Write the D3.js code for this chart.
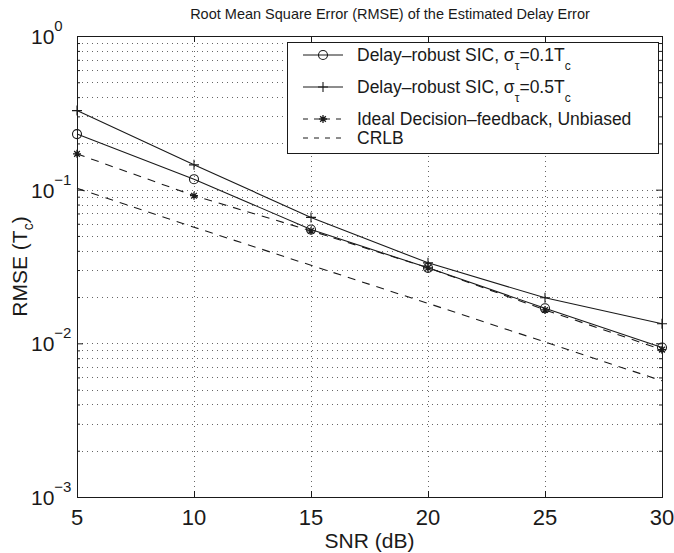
<!DOCTYPE html>
<html>
<head>
<meta charset="utf-8">
<script src="https://cdn.jsdelivr.net/npm/d3@7"></script>
<style>
  html, body { margin: 0; padding: 0; background: #fff; }
  svg { display: block; font-family: "Liberation Sans", Arial, Helvetica, sans-serif; }
</style>
</head>
<body>
<svg id="chart" width="674" height="553"></svg>
<script>
// SNR points (dB)
const snr = [5, 10, 15, 20, 25, 30];
// RMSE of the estimated delay (in chip periods Tc)
const sicSigma01 = [0.23, 0.117, 0.055, 0.031, 0.0169, 0.0094];
const sicSigma05 = [0.327, 0.145, 0.066, 0.0334, 0.0198, 0.0134];
const idealDF = [0.171, 0.0914, 0.054, 0.031, 0.0165, 0.0091];
const crlb = [0.102, 0.057, 0.0322, 0.0182, 0.0102, 0.0057];

const xTicks = [5, 10, 15, 20, 25, 30];
const yExponents = [0, -1, -2, -3];

(function draw() {
  const svg = d3.select("#chart");
  const margin = { left: 77, right: 12, top: 36, bottom: 56 };
  const W = 674, H = 553;
  const x0 = margin.left, x1 = W - margin.right;
  const y0 = margin.top, y1 = H - margin.bottom;

  const x = d3.scaleLinear().domain([5, 30]).range([x0, x1]);
  const y = d3.scaleLog().domain([1e-3, 1]).range([y1, y0]);

  const ink = "#1a1a1a";

  // grid lines: vertical at x ticks, horizontal at every decade subdivision
  const grid = svg.append("g").attr("stroke", "#666").attr("stroke-width", 1)
    .attr("stroke-dasharray", "1 4").attr("fill", "none");
  const yGridVals = [];
  for (let e = -3; e < 0; e++) for (let m = 1; m <= 9; m++) yGridVals.push(m * Math.pow(10, e));
  yGridVals.forEach(v => {
    if (v <= 1e-3) return;
    grid.append("line").attr("x1", x0).attr("x2", x1)
      .attr("y1", Math.round(y(v)) + 0.5).attr("y2", Math.round(y(v)) + 0.5);
  });
  xTicks.forEach(v => {
    if (v === 5 || v === 30) return;
    grid.append("line").attr("y1", y0).attr("y2", y1)
      .attr("x1", Math.round(x(v)) + 0.5).attr("x2", Math.round(x(v)) + 0.5);
  });

  // axes via d3 axis generators, ticks pointing inwards
  const axisG = svg.append("g");
  axisG.append("g").attr("transform", `translate(0,${y1})`)
    .call(d3.axisBottom(x).tickValues(xTicks).tickSize(-6).tickFormat(""));
  axisG.append("g").attr("transform", `translate(0,${y0})`)
    .call(d3.axisTop(x).tickValues(xTicks).tickSize(-6).tickFormat(""));
  const majorY = yExponents.map(e => Math.pow(10, e));
  const minorY = yGridVals.filter(v => v > 1e-3 && !majorY.some(m => Math.abs(v - m) < 1e-12));
  axisG.append("g").attr("transform", `translate(${x0},0)`)
    .call(d3.axisLeft(y).tickValues(majorY).tickSize(-6).tickFormat(""));
  axisG.append("g").attr("transform", `translate(${x0},0)`)
    .call(d3.axisLeft(y).tickValues(minorY).tickSize(-3).tickFormat(""));
  axisG.append("g").attr("transform", `translate(${x1},0)`)
    .call(d3.axisRight(y).tickValues(majorY).tickSize(-6).tickFormat(""));
  axisG.append("g").attr("transform", `translate(${x1},0)`)
    .call(d3.axisRight(y).tickValues(minorY).tickSize(-3).tickFormat(""));
  axisG.selectAll("path.domain").attr("stroke", ink).attr("stroke-width", 1);
  axisG.selectAll(".tick line").attr("stroke", ink);

  // tick labels
  xTicks.forEach(v => {
    svg.append("text").attr("x", x(v)).attr("y", y1 + 28)
      .attr("text-anchor", "middle").attr("font-size", 22).attr("fill", ink).text(v);
  });
  yExponents.forEach(e => {
    const t = svg.append("text").attr("x", 31).attr("y", y(Math.pow(10, e)) + 8)
      .attr("font-size", 21).attr("fill", ink);
    t.append("tspan").text("10");
    t.append("tspan").attr("dy", -13).attr("font-size", 15).text(e === 0 ? "0" : "\u2212" + Math.abs(e));
  });

  // axis titles
  svg.append("text").attr("x", (x0 + x1) / 2).attr("y", y1 + 51)
    .attr("text-anchor", "middle").attr("font-size", 21).attr("fill", ink).text("SNR (dB)");
  const yl = svg.append("text").attr("transform", `translate(27,${(y0 + y1) / 2}) rotate(-90)`)
    .attr("text-anchor", "middle").attr("font-size", 21).attr("fill", ink);
  yl.append("tspan").text("RMSE (T");
  yl.append("tspan").attr("dy", 6).attr("font-size", 14).text("c");
  yl.append("tspan").attr("dy", -6).text(")");

  svg.append("text").attr("x", 390).attr("y", 19).attr("text-anchor", "middle")
    .attr("font-size", 14.5).attr("fill", ink)
    .text("Root Mean Square Error (RMSE) of the Estimated Delay Error");

  // series
  const lineGen = d3.line().x(d => x(d[0])).y(d => y(d[1]));
  const plot = svg.append("g");
  const series = [
    { vals: sicSigma01, dash: null, marker: "circle" },
    { vals: sicSigma05, dash: null, marker: "plus" },
    { vals: idealDF, dash: "8 7", marker: "star" },
    { vals: crlb, dash: "8 7", marker: null }
  ];

  function drawMarker(g, type, cx, cy) {
    if (type === "circle") {
      g.append("circle").attr("cx", cx).attr("cy", cy).attr("r", 4.5)
        .attr("fill", "none").attr("stroke", ink).attr("stroke-width", 1.1);
    } else if (type === "plus") {
      g.append("path").attr("d", `M${cx - 5},${cy}H${cx + 5}M${cx},${cy - 5}V${cy + 5}`)
        .attr("stroke", ink).attr("stroke-width", 1.1);
    } else if (type === "star") {
      const r = 4;
      const d = [];
      for (let k = 0; k < 4; k++) {
        const a = k * Math.PI / 4;
        d.push(`M${cx - r * Math.cos(a)},${cy - r * Math.sin(a)}L${cx + r * Math.cos(a)},${cy + r * Math.sin(a)}`);
      }
      g.append("path").attr("d", d.join("")).attr("stroke", ink).attr("stroke-width", 1.3);
    }
  }

  series.forEach(s => {
    const pts = snr.map((v, i) => [v, s.vals[i]]);
    plot.append("path").datum(pts).attr("d", lineGen).attr("fill", "none")
      .attr("stroke", ink).attr("stroke-width", 1.1)
      .attr("stroke-dasharray", s.dash);
    if (s.marker) pts.forEach(p => drawMarker(plot, s.marker, x(p[0]), y(p[1])));
  });

  // legend
  const lg = svg.append("g");
  lg.append("rect").attr("x", 287.5).attr("y", 42.5).attr("width", 371).attr("height", 111)
    .attr("fill", "#fff").attr("stroke", ink).attr("stroke-width", 1);
  const rows = [
    { y: 55, marker: "circle", dash: null, sub: "0.1" },
    { y: 87, marker: "plus", dash: null, sub: "0.5" },
    { y: 119, marker: "star", dash: "5 6", label: "Ideal Decision\u2013feedback, Unbiased" },
    { y: 138, marker: null, dash: "5 6", label: "CRLB" }
  ];
  rows.forEach(r => {
    lg.append("line").attr("x1", 303).attr("x2", 343).attr("y1", r.y).attr("y2", r.y)
      .attr("stroke", ink).attr("stroke-width", 1).attr("stroke-dasharray", r.dash);
    if (r.marker) drawMarker(lg, r.marker, 323, r.y);
    const t = lg.append("text").attr("x", 357).attr("y", r.y + 6)
      .attr("font-size", 17.5).attr("fill", ink);
    if (r.sub) {
      t.append("tspan").text("Delay\u2013robust SIC, \u03c3");
      t.append("tspan").attr("dy", 9).attr("font-size", 12).text("\u03c4");
      t.append("tspan").attr("dy", -9).text("=" + r.sub + "T");
      t.append("tspan").attr("dy", 9).attr("font-size", 12).text("c");
    } else {
      t.text(r.label);
    }
  });
})();
</script>
</body>
</html>
